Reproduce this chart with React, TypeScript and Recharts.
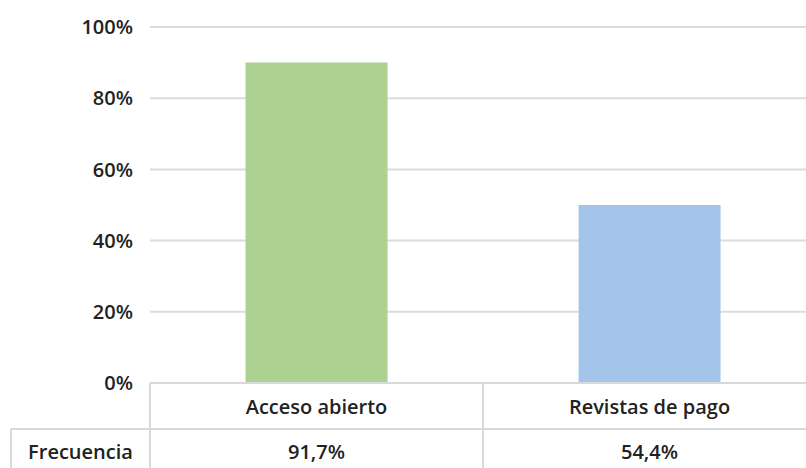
import { BarChart, Bar, XAxis, YAxis, CartesianGrid, Cell } from "recharts";

const categories = ["Acceso abierto", "Revistas de pago"];
const barValues = [90, 50];
const frequencyLabels = ["91,7%", "54,4%"];
const barColors = ["#acd190", "#a4c5e9"];
const yTicks = [0, 20, 40, 60, 80, 100];
const rowLabel = "Frecuencia";

const data = categories.map((name, i) => ({
  name,
  value: barValues[i],
  freq: frequencyLabels[i],
}));

const FONT = "'Open Sans', 'Noto Sans', sans-serif";
const BORDER = "#d9d9d9";
const TEXT = "#222222";

// Draws the data table below the plot: category row + frequency row
function TableTick(props: any) {
  const { x, y, payload, index } = props;
  const half = payload?.offset || 166;
  const top = y - 8;
  const rowSplit = top + 46;
  const bottom = top + 90;
  const left = x - half;
  const right = x + half;
  return (
    <g>
      <line x1={left} y1={top} x2={left} y2={bottom} stroke={BORDER} strokeWidth={2} />
      <line x1={right} y1={top} x2={right} y2={bottom} stroke={BORDER} strokeWidth={2} />
      <line x1={left} y1={rowSplit} x2={right} y2={rowSplit} stroke={BORDER} strokeWidth={2} />
      <text x={x} y={top + 31} textAnchor="middle" fill={TEXT} fontSize={20} fontWeight={600} fontFamily={FONT}>
        {payload.value}
      </text>
      <text x={x} y={rowSplit + 30} textAnchor="middle" fill={TEXT} fontSize={20} fontWeight={600} fontFamily={FONT}>
        {data[index]?.freq}
      </text>
      {index === 0 && (
        <g>
          <line x1={11} y1={rowSplit} x2={left} y2={rowSplit} stroke={BORDER} strokeWidth={2} />
          <line x1={11} y1={rowSplit} x2={11} y2={bottom} stroke={BORDER} strokeWidth={2} />
          <text x={(11 + left) / 2} y={rowSplit + 30} textAnchor="middle" fill={TEXT} fontSize={20} fontWeight={600} fontFamily={FONT}>
            {rowLabel}
          </text>
        </g>
      )}
    </g>
  );
}

export default function App() {
  return (
    <div style={{ position: "absolute", left: 0, top: 0, width: 806, height: 468, overflow: "hidden", background: "#fff" }}>
      <BarChart
        width={816}
        height={468}
        data={data}
        margin={{ top: 27, right: 0, bottom: 0, left: 0 }}
        barCategoryGap="28.7%"
      >
        <CartesianGrid vertical={false} stroke="#dcdcdc" strokeWidth={2} />
        <YAxis
          width={150}
          domain={[0, 100]}
          ticks={yTicks}
          tickFormatter={(v) => `${v}%`}
          axisLine={false}
          tickLine={false}
          tickMargin={11}
          tick={{ fill: TEXT, fontSize: 20, fontWeight: 600, fontFamily: FONT }}
        />
        <XAxis
          dataKey="name"
          height={85}
          axisLine={{ stroke: BORDER, strokeWidth: 2 }}
          tickLine={false}
          interval={0}
          tick={<TableTick />}
        />
        <Bar dataKey="value" isAnimationActive={false}>
          {data.map((_, i) => (
            <Cell key={`cell-${i}`} fill={barColors[i]} />
          ))}
        </Bar>
      </BarChart>
    </div>
  );
}
